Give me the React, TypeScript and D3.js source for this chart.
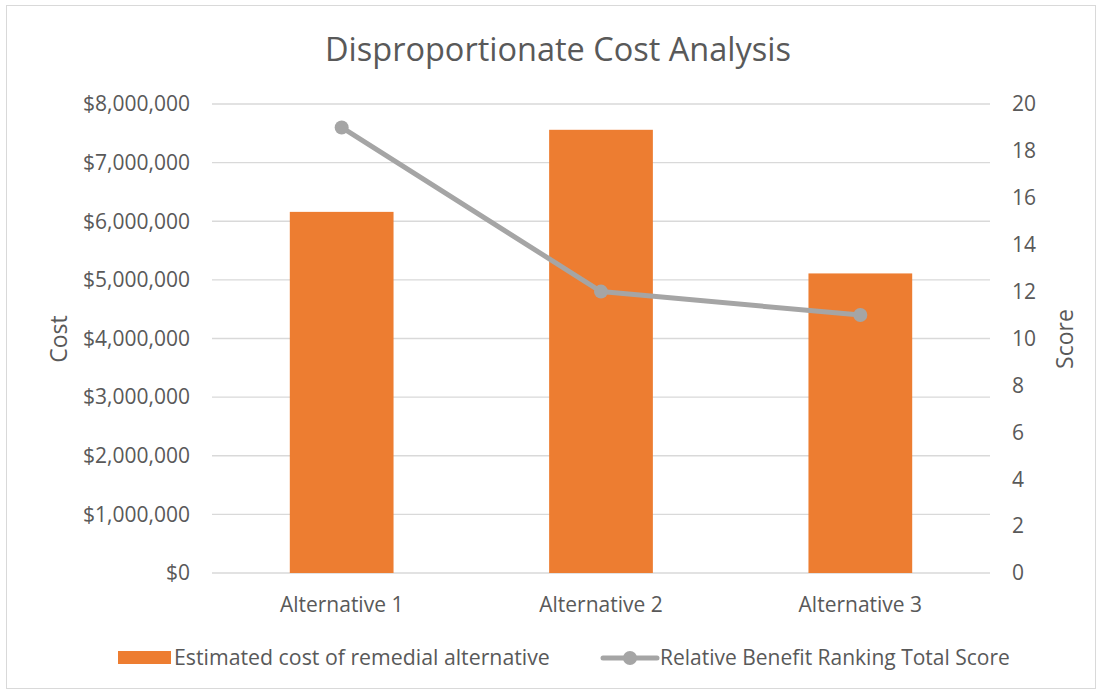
import React from "react";
import * as d3 from "d3";

const categories = ["Alternative 1", "Alternative 2", "Alternative 3"];
const costValues = [6160000, 7560000, 5110000];
const scoreValues = [19, 12, 11];
const costTicks = [0, 1000000, 2000000, 3000000, 4000000, 5000000, 6000000, 7000000, 8000000];
const scoreTicks = [0, 2, 4, 6, 8, 10, 12, 14, 16, 18, 20];
const title = "Disproportionate Cost Analysis";
const barSeriesName = "Estimated cost of remedial alternative";
const lineSeriesName = "Relative Benefit Ranking Total Score";

const W = 1102;
const H = 694;
const FONT = "'Open Sans', 'Noto Sans', sans-serif";
const TEXT = "#595959";
const FS = 21;

export default function App() {
  const left = 212, right = 990, top = 104, bottom = 573;
  const band = d3.scaleBand<string>().domain(categories).range([left, right]);
  const yL = d3.scaleLinear().domain([0, 8000000]).range([bottom, top]);
  const yR = d3.scaleLinear().domain([0, 20]).range([bottom, top]);
  const fmt = (v: number) => "$" + d3.format(",")(v);
  const cxOf = (c: string) => band(c)! + band.bandwidth() / 2;
  const line = d3.line<number>().x((_, i) => cxOf(categories[i])).y((d) => yR(d));
  const barW = band.bandwidth() * 0.4;

  return (
    <svg width={W} height={H} style={{ position: "absolute", left: 0, top: 0 }} fontFamily={FONT}>
      <rect x={0} y={0} width={W} height={H} fill="#fff" />
      <rect x={6.5} y={5.5} width={1089} height={683} fill="#fff" stroke="#D9D9D9" strokeWidth={1} />
      <text x={558} y={61} textAnchor="middle" fontSize={32.5} fill={TEXT}>{title}</text>
      {costTicks.map((t) => (
        <g key={t}>
          <line x1={left} x2={right} y1={yL(t)} y2={yL(t)} stroke="#D9D9D9" strokeWidth={1.3} />
          <text x={190} y={yL(t)} dy="0.35em" textAnchor="end" fontSize={FS} fill={TEXT}>{fmt(t)}</text>
        </g>
      ))}
      {scoreTicks.map((t) => (
        <text key={t} x={1012} y={yR(t)} dy="0.35em" textAnchor="start" fontSize={FS} fill={TEXT}>{t}</text>
      ))}
      {categories.map((c, i) => {
        const cx = cxOf(c);
        return (
          <g key={c}>
            <rect x={cx - barW / 2} y={yL(costValues[i])} width={barW} height={bottom - yL(costValues[i])} fill="#ED7D31" />
            <text x={cx} y={605} dy="0.35em" textAnchor="middle" fontSize={FS} fill={TEXT}>{c}</text>
          </g>
        );
      })}
      <path d={line(scoreValues) || ""} fill="none" stroke="#A5A5A5" strokeWidth={5} strokeLinejoin="round" />
      {scoreValues.map((v, i) => (
        <circle key={i} cx={cxOf(categories[i])} cy={yR(v)} r={7} fill="#A5A5A5" />
      ))}
      <text transform={`translate(67,339) rotate(-90)`} textAnchor="middle" fontSize={23} fill={TEXT}>Cost</text>
      <text transform={`translate(1056,339) rotate(-90)`} textAnchor="middle" dy="0.75em" fontSize={23} fill={TEXT}>Score</text>
      <rect x={118} y={651} width={53} height={13} fill="#ED7D31" />
      <text x={174} y={658} dy="0.35em" fontSize={21.3} fill={TEXT}>{barSeriesName}</text>
      <line x1={603} x2={657} y1={658} y2={658} stroke="#A5A5A5" strokeWidth={5} strokeLinecap="round" />
      <circle cx={630} cy={658} r={7} fill="#A5A5A5" />
      <text x={660} y={658} dy="0.35em" fontSize={FS} fill={TEXT}>{lineSeriesName}</text>
    </svg>
  );
}
